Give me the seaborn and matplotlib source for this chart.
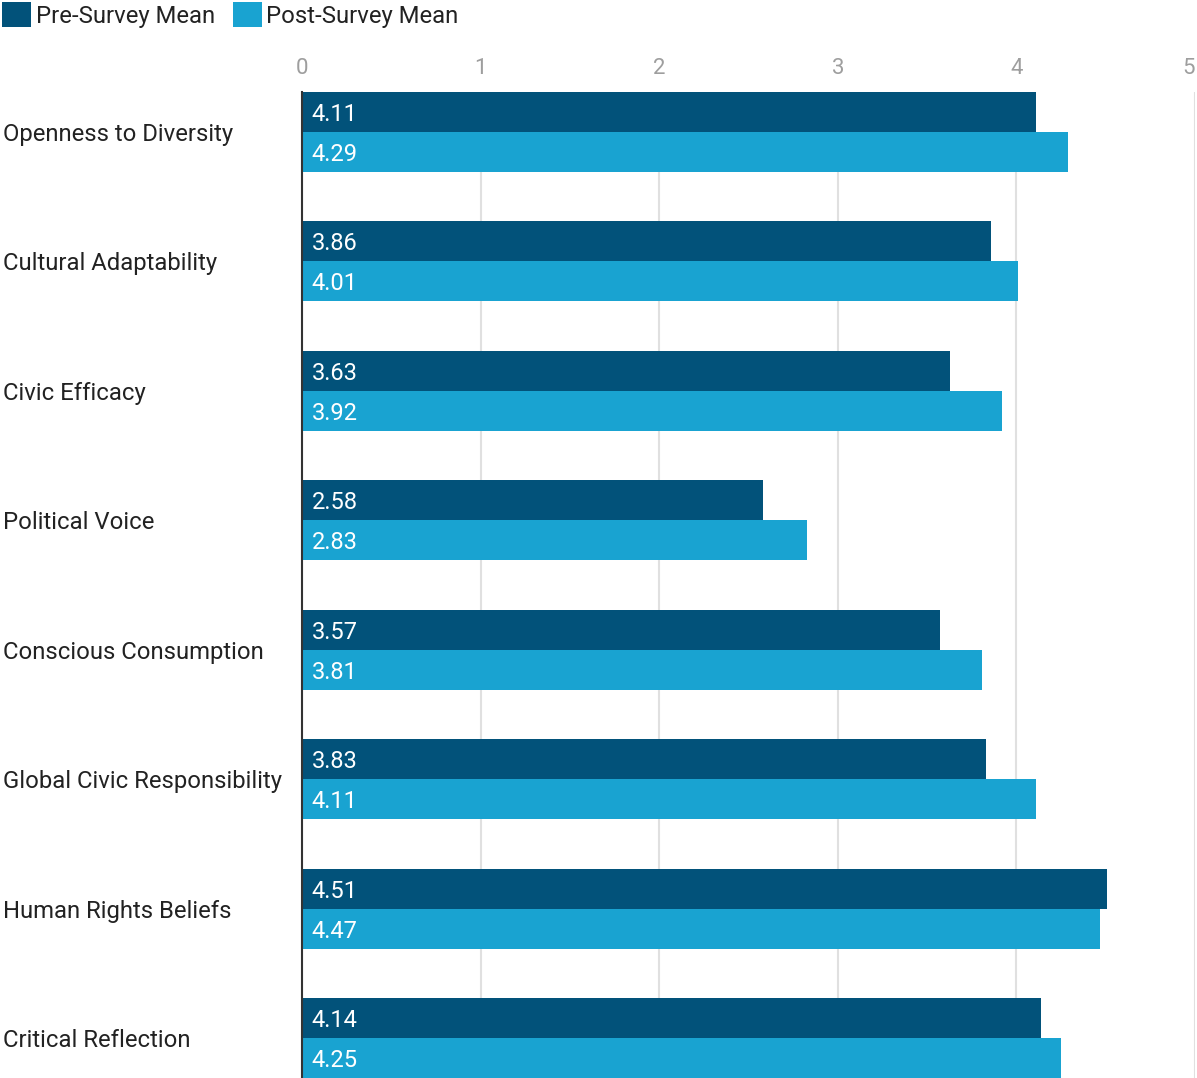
import pandas as pd
import numpy as np
import matplotlib.pyplot as plt
import seaborn as sns
from matplotlib.patches import Patch

categories = ['Openness to Diversity', 'Cultural Adaptability', 'Civic Efficacy',
              'Political Voice', 'Conscious Consumption', 'Global Civic Responsibility',
              'Human Rights Beliefs', 'Critical Reflection']
pre_mean = [4.11, 3.86, 3.63, 2.58, 3.57, 3.83, 4.51, 4.14]
post_mean = [4.29, 4.01, 3.92, 2.83, 3.81, 4.11, 4.47, 4.25]
series = ['Pre-Survey Mean', 'Post-Survey Mean']
x_ticks = [0, 1, 2, 3, 4, 5]

colors = ['#02527a', '#19a3d1']

df = pd.DataFrame({
    'category': categories * 2,
    'value': pre_mean + post_mean,
    'series': [series[0]] * len(categories) + [series[1]] * len(categories),
})

sns.set_style('white')
plt.rcParams['font.family'] = ['Roboto', 'DejaVu Sans']

fig = plt.figure(figsize=(11.97, 10.78), dpi=100)
ax = fig.add_axes([302 / 1197, 0, 893 / 1197, 986 / 1078])

sns.barplot(data=df, x='value', y='category', hue='series', order=categories,
            hue_order=series, palette=colors, saturation=1, width=0.617,
            linewidth=0, legend=False, ax=ax)

ax.set_xlim(0, 5)
ax.set_ylim(len(categories) - 1 + 0.3085, -0.3085)
ax.set_xticks(x_ticks)
ax.xaxis.tick_top()
ax.tick_params(axis='x', length=0, pad=9, labelsize=16, labelcolor='#9e9e9e')
# last tick label sits inside the figure
ax.get_xticklabels()[-1].set_horizontalalignment('right')
ax.grid(axis='x', color='#e0e0e0', linewidth=1.5)
ax.set_axisbelow(True)
for side in ['top', 'right', 'bottom']:
    ax.spines[side].set_visible(False)
ax.spines['left'].set_color('#333333')
ax.spines['left'].set_linewidth(1.5)
ax.spines['left'].set_zorder(5)

ax.set_yticks(range(len(categories)))
ax.set_yticklabels(categories, ha='left')
ax.tick_params(axis='y', length=0, pad=215, labelsize=17.2, labelcolor='#222222')
ax.set_xlabel('')
ax.set_ylabel('')

# value labels inside the bars
for bar in ax.patches:
    w = bar.get_width()
    yc = bar.get_y() + bar.get_height() / 2
    ax.annotate(f'{w:.2f}', xy=(0, yc), xytext=(7, 0), textcoords='offset points',
                ha='left', va='center_baseline', color='white', fontsize=17)

handles = [Patch(facecolor=c, edgecolor='none') for c in colors]
fig.legend(handles, series, loc='upper left', bbox_to_anchor=(0.0, 1.0),
           frameon=False, fontsize=17.2, handlelength=1.2, handleheight=1.2,
           handletextpad=0.2, columnspacing=0.75, ncol=2, borderaxespad=0.1,
           borderpad=0.0, labelcolor='#222222')

fig.savefig('out.png', dpi=100)
